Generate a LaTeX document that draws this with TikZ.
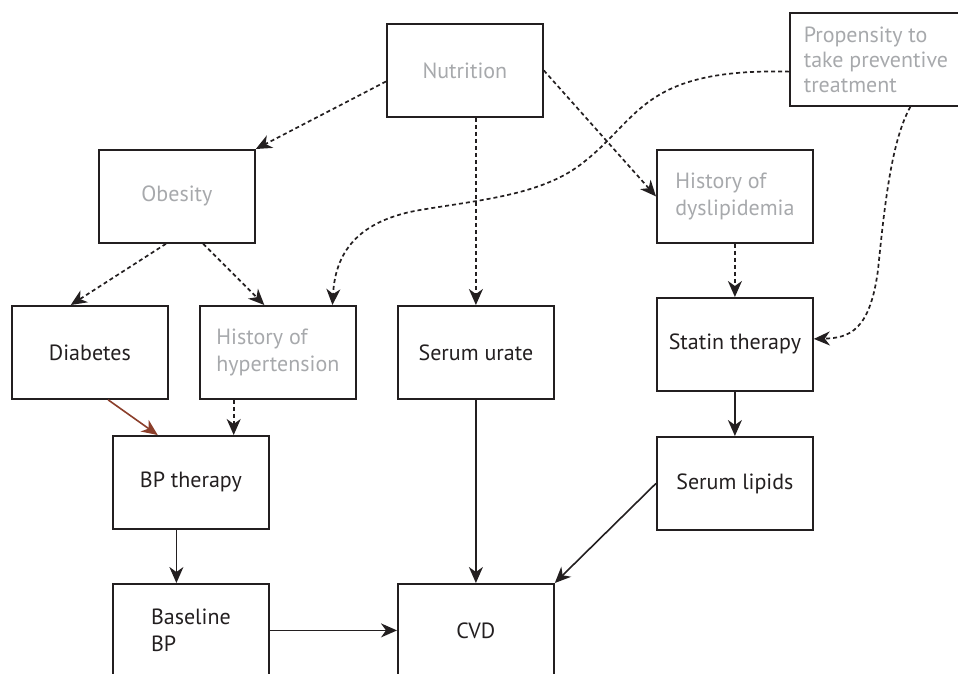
\documentclass[tikz,border=0pt]{standalone}
\usepackage{fontspec}
\setmainfont{PT Sans}
\usetikzlibrary{arrows.meta}
\definecolor{ink}{RGB}{35,31,32}
\definecolor{faded}{RGB}{167,169,172}
\definecolor{rust}{RGB}{139,62,42}

\begin{document}
\begin{tikzpicture}
  [x=1pt,y=-1pt,
   box/.style={draw=ink,line width=1.8pt,minimum width=156pt,minimum height=93pt,
     anchor=north west,align=left,text=ink,font=\fontsize{22}{27}\selectfont},
   faint/.style={text=faded},
   tip/.style={-{Stealth[length=16pt,width=14pt,inset=5pt]}},
   solid link/.style={tip,draw=ink,line width=1.6pt},
   dash link/.style={tip,draw=ink,line width=1.7pt,dash pattern=on 4pt off 3pt}]
  \useasboundingbox (0,0) rectangle (958,673);

  \node[box,faint] (nut) at (386,23) {Nutrition};
  \node[box,faint,minimum width=172pt,font=\fontsize{22}{25}\selectfont] (prop) at (789,12)
    {Propensity to\\take preventive\\treatment};
  \node[box,faint] (obes) at (98,149) {Obesity};
  \node[box,faint] (hod) at (656,149) {History of\\dyslipidemia};
  \node[box] (diab) at (11,305) {Diabetes};
  \node[box,faint] (hoh) at (199,305) {History of\\hypertension};
  \node[box] (urate) at (397,305) {Serum urate};
  \node[box] (statin) at (656,297) {Statin therapy};
  \node[box] (lipids) at (656,436) {Serum lipids};
  \node[box] (bpt) at (112,435) {BP therapy};
  \node[box] (base) at (112,583) {Baseline\\BP};
  \node[box] (cvd) at (397,583) {CVD};

  \foreach \from/\to in {nut.188/obes.north east,nut.east/hod.west,obes.257/diab.112,
      obes.299/hoh.106,hod.south/statin.north}
    \draw[dash link] (\from) -- (\to);
  \draw[dash link] (urate.north |- nut.south) -- (urate.north);
  \draw[dash link] (hoh.227) -- (hoh.227 |- bpt.north);

  \draw[dash link] (prop.188) .. controls (640,68) and (640,120) .. (580,165)
    .. controls (540,195) and (480,200) .. (420,210)
    .. controls (350,222) and (335,260) .. (hoh.41);
  \draw[dash link] (prop.306) .. controls (892,140) and (885,200) .. (878,270)
    .. controls (870,330) and (850,338) .. (statin.4);

  \foreach \from/\to in {urate.south/cvd.north,base.east/cvd.west,
      lipids.west/cvd.north east,statin.south/lipids.north}
    \draw[solid link] (\from) -- (\to);
  \draw[solid link] (bpt.253) -- (bpt.253 |- base.north);
  \draw[solid link,draw=rust] (diab.291) -- (bpt.125);

\end{tikzpicture}
\end{document}
